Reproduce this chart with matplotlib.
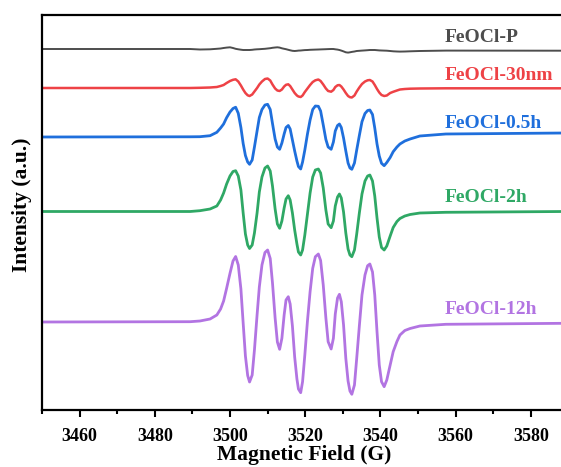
import numpy as np
import matplotlib
matplotlib.use("Agg")
import matplotlib.pyplot as plt

plt.rcParams["font.family"] = ["Liberation Serif", "DejaVu Serif"]
plt.rcParams["font.weight"] = "bold"

# magnetic field (G), shared by every trace
field = [3450.0, 3489.4, 3492.0, 3494.7, 3496.5, 3497.5, 3498.3, 3499.1, 3500.0, 3500.8,
         3501.5, 3502.2, 3502.9, 3503.5, 3504.1, 3504.7, 3505.2, 3505.9, 3506.5, 3507.2,
         3507.8, 3508.5, 3509.3, 3510.0, 3510.7, 3511.3, 3512.0, 3512.6, 3513.2, 3513.8,
         3514.4, 3514.9, 3515.5, 3516.0, 3516.6, 3517.2, 3517.8, 3518.2, 3518.8, 3519.3,
         3519.9, 3520.6, 3521.3, 3522.0, 3522.7, 3523.5, 3524.1, 3524.8, 3525.5, 3526.1,
         3526.9, 3527.5, 3528.0, 3528.6, 3529.1, 3529.6, 3530.2, 3530.8, 3531.4, 3531.9,
         3532.4, 3533.1, 3533.7, 3534.4, 3535.1, 3535.9, 3536.6, 3537.2, 3537.9, 3538.5,
         3539.1, 3539.7, 3540.3, 3541.0, 3541.7, 3542.6, 3543.4, 3544.4, 3545.2, 3546.5,
         3547.9, 3550.5, 3557.4, 3589.0]

# signal of each sample (a.u., baseline = 0)
feocl_p = [0, 0, -0.5, -0.3, 0.2, 0.5, 1, 1.4, 1.7, 1,
           0.2, -0.3, -0.7, -1, -1, -1, -1, -0.8, -0.5, -0.3,
           -0.2, 0, 0.2, 0.5, 0.8, 1.2, 1.5, 1.7, 1.4, 0.7,
           0.2, -0.2, -0.8, -1.3, -1.8, -2, -1.8, -1.6, -1.5, -1.3,
           -1.1, -1, -0.8, -0.7, -0.6, -0.5, -0.4, -0.3, -0.2, -0.1,
           0, 0, -0.3, -0.6, -1, -1.6, -2.4, -3.3, -3.6, -3.3,
           -2.9, -2.5, -2, -1.8, -1.6, -1.4, -1.2, -1, -1, -1,
           -1.2, -1.4, -1.5, -1.6, -1.7, -2, -2.3, -2.5, -2.6, -2.5,
           -2.3, -2, -1.6, -1.7]
feocl_30nm = [0, 0, 0.2, 0.5, 1, 2, 3, 5, 7, 8.2,
              8.7, 6.5, 2.5, -1.5, -5, -7.3, -8, -6.5, -3.5, 0,
              3.5, 6.5, 9, 9.5, 7.5, 3.5, -0.5, -2.5, -3, -1.5,
              1.5, 3.2, 3.7, 2, -1.5, -5, -7.5, -8.5, -9, -7.5,
              -4, -0.5, 3, 6, 7.7, 8.5, 7, 3.5, -0.5, -3,
              -3.7, -2, 1, 2.7, 3, 1.5, -1.5, -5, -8, -9.2,
              -9.5, -7.5, -3.5, 0.5, 4, 6.5, 7.7, 8, 6.5, 3,
              -1, -4.5, -7, -8, -7.5, -5, -3.8, -2.5, -1.5, -1,
              -0.7, -0.5, -0.3, -0.3]
feocl_05h = [0, 0.2, 0.3, 1.3, 4.7, 9, 13, 19.3, 25, 28.5,
             29.8, 23.7, 9.5, -6.5, -18.5, -25, -27.3, -23, -10, 6,
             19.5, 27.5, 32, 32.7, 27.5, 13.5, -2, -10, -12.3, -6,
             3, 9.5, 11.5, 8, -3, -14, -24, -29.5, -32, -25,
             -13, 3, 17, 27.5, 31, 30.7, 26, 12, -2.5, -10,
             -12.3, -5, 6, 11.5, 13, 9.5, -1, -14, -26, -31,
             -32.3, -26, -13, 1.5, 15.3, 23.5, 26.5, 27, 22.5, 9,
             -7, -19, -26.3, -28.7, -25.5, -20.5, -14.7, -10, -7, -4,
             -2, 1, 3, 4]
feocl_2h = [0, 0, 0.8, 2.5, 5.5, 11.5, 18.5, 27.5, 35.5, 40,
            40.8, 35.5, 21.5, -1.5, -22.5, -33.5, -37, -33.5, -21.5, -1.5,
            19.5, 34.5, 43.5, 45.5, 40.5, 25.5, 2.5, -12.5, -16.8, -9.5,
            3.5, 12.5, 15.8, 11.5, -1.5, -18.5, -32.5, -40.5, -43.5, -38.5,
            -23.5, -2.5, 18.5, 34.5, 41.5, 42.5, 38.5, 23.5, 1.5, -12.5,
            -16.2, -9.5, 5.5, 14.5, 17.5, 13.5, -0.5, -21.5, -37.5, -43.5,
            -45.2, -38.5, -22.5, -1.5, 17.5, 30.5, 35.5, 36.5, 30.5, 15.5,
            -6.5, -25.5, -36, -38.5, -34.5, -24.5, -16, -10, -7, -4.5,
            -3, -1.5, -0.8, 0]
feocl_12h = [0, 0.3, 1, 3, 7, 13, 21, 33.7, 48.7, 61,
             65.5, 57, 33, -1, -34, -53.5, -60, -53, -28, 7,
             35, 57, 69.5, 72, 63.5, 39, 4, -20, -27.3, -16.3,
             7, 22, 25.3, 18, -4, -35, -57, -67, -70.7, -59.7,
             -33, 1, 30.3, 53.7, 65.3, 68, 61.5, 37, 4, -19.7,
             -27, -16.3, 8, 24, 27.7, 20.3, -3, -36.3, -59, -69,
             -72.3, -63, -36.3, -4, 27, 47, 56.3, 58, 50, 27,
             -9.7, -43, -59.7, -64.7, -58, -43, -29.7, -19.5, -13, -8.5,
             -6.5, -4, -2.3, -1.3]

names = ["FeOCl-P", "FeOCl-30nm", "FeOCl-0.5h", "FeOCl-2h", "FeOCl-12h"]
traces = [feocl_p, feocl_30nm, feocl_05h, feocl_2h, feocl_12h]
offsets = [361, 322, 273, 198.5, 88]
label_y = [372, 335, 287, 212, 100]
colors = ["#4d4d4d", "#ee4246", "#1f6fdc", "#2fa865", "#b274e2"]
widths = [1.4, 1.8, 2.0, 2.0, 2.0]

fig = plt.figure(figsize=(5.61, 4.67), dpi=100)
ax_w = 1 - 42 / 561 + 0.01
ax = fig.add_axes([42 / 561, 57 / 467, ax_w, 395 / 467])

for y, off, name, c, lw, ly in zip(traces, offsets, names, colors, widths, label_y):
    ax.plot(field, np.array(y) + off, color=c, lw=lw, solid_joinstyle="round")
    ax.text(3557, ly, name, color=c, fontsize=14, fontweight="bold", ha="left", va="center")

ax.set_xlim(3450, 3450 + 561 * ax_w / 3.76)
ax.set_ylim(0, 395)
ax.set_xticks(np.arange(3460, 3581, 20))
ax.set_xticks(np.arange(3450, 3590, 10), minor=True)
ax.set_yticks([])
ax.tick_params(axis="x", which="major", length=5, width=1.5, labelsize=13, pad=8)
ax.tick_params(axis="x", which="minor", length=3, width=1.5)
for s in ax.spines.values():
    s.set_linewidth(1.6)

ax.set_xlabel("Magnetic Field (G)", fontsize=15.5, fontweight="bold", labelpad=0)
ax.set_ylabel("Intensity (a.u.)", fontsize=15.5, fontweight="bold", va="center")
ax.yaxis.set_label_coords(-0.038, 0.52)

fig.savefig("out.png", dpi=100)
